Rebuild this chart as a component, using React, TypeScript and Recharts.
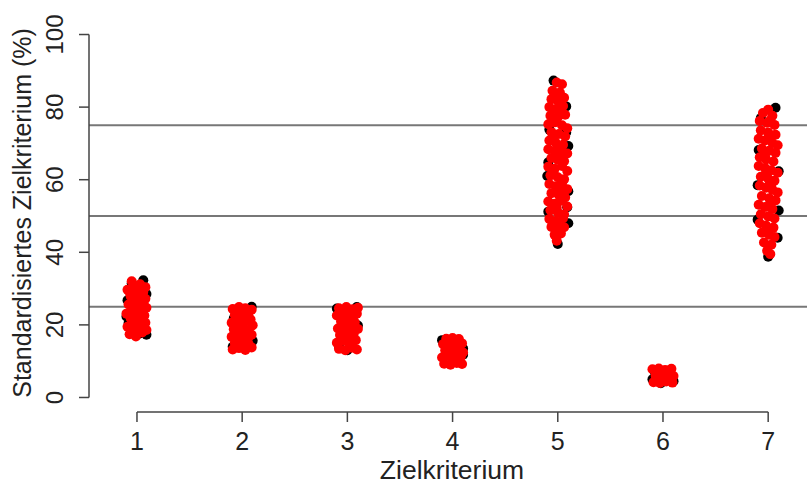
import React from 'react';
import { ScatterChart, Scatter, XAxis, YAxis, ReferenceLine } from 'recharts';

// Jittered strip chart: x = category + jitter, y = standardised value (%)
const categories = [1, 2, 3, 4, 5, 6, 7];
const yTicks = [0, 20, 40, 60, 80, 100];
const thresholds = [25, 50, 75];

const black1 = [[1.06, 32.3], [0.95, 31.5], [0.9, 22.3], [1.09, 17.3], [0.92, 20.5], [1.02, 17.6], [1.09, 28.5], [0.91, 26.8]];
const black2 = [[2.09, 25.0], [1.91, 14.0], [2.1, 15.6], [1.92, 21.8]];
const black3 = [[2.9, 24.5], [3.1, 19.8], [3.0, 13.0], [2.92, 14.2], [3.09, 24.9]];
const black4 = [[3.9, 15.8], [4.1, 13.5], [4.1, 11.8]];
const black5 = [[4.96, 87.3], [5.08, 80.2], [5.1, 69.3], [4.91, 64.8], [4.9, 61.0], [5.1, 56.8], [5.09, 52.4], [4.91, 51.2], [5.0, 42.3], [5.1, 48.0], [4.92, 73.8], [5.08, 73.0]];
const black6 = [[5.9, 5.0], [5.98, 3.9], [6.1, 4.5], [5.92, 7.2]];
const black7 = [[7.07, 79.8], [6.91, 68.2], [6.9, 58.5], [7.1, 62.3], [6.9, 49.0], [7.09, 44.0], [7.0, 38.8], [6.93, 77.0], [7.1, 51.5]];

const red1 = [
  [0.93, 17.4], [0.99, 16.8], [1.05, 17.9], [1.09, 18.6], [0.91, 19.5], [0.97, 20.1], [1.03, 19.2], [1.08, 20.6],
  [0.94, 21.8], [1.01, 22.4], [1.06, 21.3], [0.9, 23.1], [0.96, 24.0], [1.04, 23.6], [1.09, 24.7], [0.92, 25.6],
  [0.99, 26.1], [1.05, 25.8], [1.08, 27.2], [0.94, 27.9], [1.0, 28.4], [1.06, 29.1], [0.91, 29.7], [0.97, 30.6],
  [1.03, 31.2], [1.08, 30.4], [0.95, 32.0], [1.02, 27.0], [0.98, 18.9], [1.0, 23.0], [0.93, 29.0], [1.07, 22.6],
  [1.0, 20.9], [1.02, 25.0], [0.97, 28.7], [1.04, 30.0],
];
const red2 = [
  [1.91, 13.2], [1.97, 13.6], [2.03, 13.1], [2.09, 13.8], [1.93, 15.0], [2.0, 15.4], [2.06, 14.8], [1.9, 16.7],
  [1.96, 17.1], [2.03, 16.5], [2.09, 17.3], [1.92, 18.8], [1.99, 19.2], [2.05, 18.6], [2.1, 19.9], [1.9, 20.6],
  [1.96, 21.1], [2.02, 20.8], [2.08, 21.5], [1.93, 22.7], [2.0, 23.2], [2.06, 22.5], [1.91, 24.4], [1.97, 24.9],
  [2.03, 24.6], [2.09, 24.2], [2.0, 17.9], [1.96, 19.9], [2.04, 21.9], [1.97, 15.9], [2.06, 16.6],
];
const red3 = [
  [2.92, 13.4], [2.98, 13.0], [3.04, 13.7], [3.09, 13.2], [2.9, 15.1], [2.96, 15.6], [3.02, 14.9], [3.08, 15.8],
  [2.93, 17.2], [3.0, 16.8], [3.06, 17.5], [2.91, 19.0], [2.97, 18.6], [3.03, 19.3], [3.1, 18.9], [2.94, 20.9],
  [3.0, 21.4], [3.07, 20.7], [2.9, 22.6], [2.96, 23.0], [3.03, 22.4], [3.09, 23.1], [2.92, 24.6], [2.99, 24.9],
  [3.05, 24.3], [3.1, 24.7], [2.98, 20.1], [3.04, 16.3], [2.96, 17.9], [3.05, 21.8], [3.01, 23.6],
];
const red4 = [
  [3.92, 9.3], [3.98, 9.0], [4.04, 9.5], [4.09, 9.2], [3.9, 11.0], [3.96, 11.4], [4.02, 10.8], [4.08, 11.3],
  [3.93, 13.0], [4.0, 12.6], [4.06, 13.2], [4.1, 12.4], [3.91, 14.7], [3.97, 15.0], [4.03, 14.5], [4.09, 14.9],
  [3.94, 16.2], [4.0, 16.4], [4.06, 16.1], [3.99, 13.8], [3.95, 12.2], [4.05, 10.2],
];
const red5 = [
  [4.99, 86.8], [5.04, 86.3], [4.95, 84.5], [5.02, 84.0], [4.94, 82.2], [5.0, 81.7], [5.06, 82.6], [4.92, 80.0],
  [4.98, 79.4], [5.05, 80.3], [4.93, 77.6], [5.0, 77.2], [5.07, 77.9], [4.91, 75.3], [4.97, 75.8], [5.04, 75.0],
  [5.09, 74.2], [4.94, 73.1], [5.01, 72.6], [5.07, 71.9], [4.92, 70.8], [4.98, 70.2], [5.05, 69.6], [4.91, 68.4],
  [4.97, 67.9], [5.03, 68.6], [5.09, 67.2], [4.94, 66.0], [5.0, 65.5], [5.06, 65.1], [4.91, 63.6], [4.97, 63.0],
  [5.04, 63.8], [5.09, 62.4], [4.93, 61.2], [5.0, 60.7], [5.06, 60.1], [4.92, 58.8], [4.98, 58.2], [5.04, 58.9],
  [5.09, 57.4], [4.94, 56.3], [5.01, 55.8], [5.07, 55.1], [4.91, 54.0], [4.97, 53.4], [5.03, 54.2], [5.09, 52.6],
  [4.93, 51.6], [5.0, 51.0], [5.06, 50.4], [4.92, 49.2], [4.98, 48.6], [5.05, 49.4], [4.94, 47.0], [5.01, 46.4],
  [5.06, 46.9], [4.97, 44.8], [5.03, 45.2], [4.99, 43.2], [5.0, 83.0], [4.96, 71.0], [5.02, 57.0], [5.0, 47.5],
  [5.03, 78.6], [4.96, 61.9], [5.02, 66.7], [4.99, 52.3],
];
const red6 = [
  [5.91, 4.2], [5.97, 4.0], [6.03, 4.4], [6.09, 4.1], [5.93, 6.0], [5.99, 5.8], [6.05, 6.2], [6.1, 5.9],
  [5.9, 7.8], [5.96, 8.0], [6.02, 7.6], [6.08, 7.9],
];
const red7 = [
  [7.0, 79.3], [6.95, 78.4], [7.04, 77.6], [6.92, 76.2], [6.99, 75.7], [7.06, 75.1], [6.93, 73.6], [7.0, 73.0],
  [7.07, 72.4], [6.91, 71.3], [6.97, 70.8], [7.04, 70.1], [7.09, 69.5], [6.94, 68.6], [7.01, 68.0], [7.07, 67.4],
  [6.92, 66.2], [6.98, 65.6], [7.05, 65.0], [6.91, 63.8], [6.97, 63.2], [7.03, 62.6], [7.09, 61.9], [6.93, 60.8],
  [7.0, 60.3], [7.06, 59.7], [6.92, 58.4], [6.98, 57.8], [7.04, 57.2], [7.09, 56.5], [6.94, 55.5], [7.01, 54.9],
  [7.07, 54.3], [6.91, 53.1], [6.97, 52.5], [7.04, 51.9], [6.93, 50.5], [7.0, 49.9], [7.06, 49.3], [6.92, 48.0],
  [6.98, 47.4], [7.05, 46.8], [6.94, 45.4], [7.01, 44.8], [7.06, 44.2], [6.96, 42.7], [7.03, 42.1], [6.99, 40.4],
  [7.02, 39.5], [7.0, 71.5], [6.98, 62.0], [7.02, 53.5], [7.02, 76.4], [6.97, 66.9], [7.03, 58.6], [6.99, 46.1],
];

const toPoints = (lists: number[][][]) => lists.flat().map(([x, y]) => ({ x, y }));
const blackData = toPoints([black1, black2, black3, black4, black5, black6, black7]);
const redData = toPoints([red1, red2, red3, red4, red5, red6, red7]);

const FONT = '"Liberation Sans", Arial, sans-serif';
const X_MIN = 0.544;

const dot = (color: string) => (props: any) => (
  <circle cx={props.cx} cy={props.cy} r={5} fill={color} />
);

const YTick = ({ x, y, payload }: any) => (
  <text
    x={x}
    y={y}
    transform={`rotate(-90, ${x}, ${y})`}
    textAnchor="middle"
    fontSize={24}
    fontFamily={FONT}
    fill="#222"
  >
    {payload.value}
  </text>
);

export default function App() {
  return (
    <div style={{ position: 'absolute', left: 0, top: 0, background: '#fff' }}>
      <ScatterChart width={807} height={485} margin={{ top: 20, right: 0, bottom: 0, left: 0 }}>
        <XAxis
          type="number"
          dataKey="x"
          domain={[X_MIN, 7.369]}
          allowDataOverflow
          ticks={categories}
          interval={0}
          height={73}
          axisLine={false}
          tickLine={{ stroke: '#444', strokeWidth: 1.5 }}
          tickSize={10}
          tickMargin={10}
          tick={{ fontSize: 25, fill: '#222', fontFamily: FONT }}
          label={{
            content: () => (
              <text x={452} y={479} textAnchor="middle" fontSize={26.5} fontFamily={FONT} fill="#222">
                Zielkriterium
              </text>
            ),
          }}
        />
        <YAxis
          type="number"
          dataKey="y"
          domain={[-4, 104]}
          allowDataOverflow
          ticks={yTicks}
          interval={0}
          width={89}
          axisLine={false}
          tickLine={{ stroke: '#444', strokeWidth: 1.5 }}
          tickSize={10}
          tickMargin={16}
          tick={<YTick />}
          label={{
            content: () => (
              <text
                x={0}
                y={0}
                transform="translate(31, 213) rotate(-90)"
                textAnchor="middle"
                fontSize={25}
                fontFamily={FONT}
                fill="#222"
              >
                Standardisiertes Zielkriterium (%)
              </text>
            ),
          }}
        />
        {thresholds.map((t) => (
          <ReferenceLine key={t} y={t} stroke="#777" strokeWidth={2} />
        ))}
        {/* R-style axes: lines only span the first to last tick */}
        <ReferenceLine
          segment={[{ x: X_MIN, y: 0 }, { x: X_MIN, y: 100 }]}
          stroke="#444"
          strokeWidth={1.5}
          ifOverflow="visible"
        />
        <ReferenceLine
          segment={[{ x: 1, y: -4 }, { x: 7, y: -4 }]}
          stroke="#444"
          strokeWidth={1.5}
          ifOverflow="visible"
        />
        <Scatter data={blackData} fill="#000" shape={dot('#000')} isAnimationActive={false} />
        <Scatter data={redData} fill="#ff0000" shape={dot('#ff0000')} isAnimationActive={false} />
      </ScatterChart>
    </div>
  );
}
